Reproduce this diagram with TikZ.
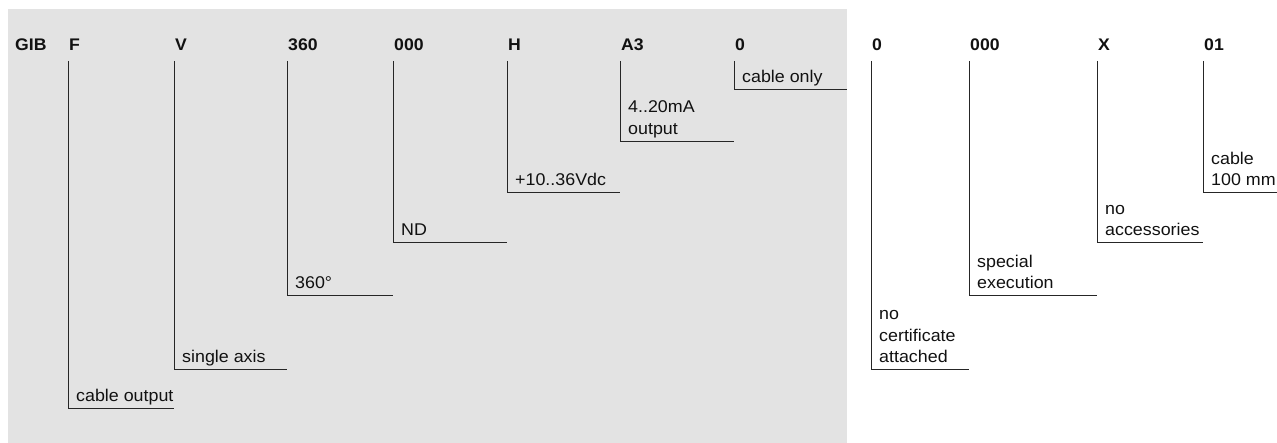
\documentclass[tikz,border=0pt]{standalone}
\usepackage{fontspec}
\setmainfont[FakeStretch=1.05]{Liberation Sans}
\definecolor{bggray}{HTML}{E3E3E3}
\definecolor{txt}{HTML}{111111}
\newcommand{\lbl}[1]{\parbox[b]{5cm}{\raggedright #1}}
\begin{document}
\begin{tikzpicture}[x=1pt,y=-1pt,
  code/.style={anchor=base west,inner sep=0pt,font=\fontsize{16.8}{18}\selectfont\bfseries,text=txt},
  lab/.style={anchor=base west,inner sep=0pt,font=\fontsize{17}{21.7}\selectfont,text=txt},
  lead/.style={draw=black!85,line width=1pt}]
\useasboundingbox (0,0) rectangle (1277,443);
\fill[bggray] (8,9) rectangle (847,443);
% header codes
\node[code] (cGIB) at (15,51) {GIB};
\node[code] (cF) at (69,51) {F};
\node[code] (cV) at (175,51) {V};
\node[code] (c360) at (288,51) {360};
\node[code] (c000) at (394,51) {000};
\node[code] (cH) at (508,51) {H};
\node[code] (cA3) at (621,51) {A3};
\node[code] (c0) at (735,51) {0};
\node[code] (c0b) at (872,51) {0};
\node[code] (c000b) at (970,51) {000};
\node[code] (cX) at (1098,51) {X};
\node[code] (c01) at (1204,51) {01};
% leader corner coordinates
\foreach \n/\x/\y/\e in {F/68/409/174, V/174/370/287, 360/287/296/393, 000/393/243/507,
  H/507/193/620, A3/620/142/734, 0/734/90/847, 0b/871/370/969, 000b/969/296/1097,
  X/1097/243/1203, 01/1203/193/1277}{
  \coordinate (t\n) at (\x,61);
  \coordinate (k\n) at (\x,\y);
  \coordinate (e\n) at (\e,\y);
  \draw[lead] (t\n) -- (k\n) -- (e\n);
}
% labels (positioned at the baseline of their last line)
\node[lab] (lF) at (76,402) {\lbl{cable output}};
\node[lab] (lV) at (182,363) {\lbl{single axis}};
\node[lab] (l360) at (295,289) {\lbl{360°}};
\node[lab] (l000) at (401,236) {\lbl{ND}};
\node[lab] (lH) at (515,186) {\lbl{+10..36Vdc}};
\node[lab] (lA3) at (628,134.5) {\lbl{4..20mA\\output}};
\node[lab] (l0) at (742,83) {\lbl{cable only}};
\node[lab] (l0b) at (879,363) {\lbl{no\\certificate\\attached}};
\node[lab] (l000b) at (977,289) {\lbl{special\\execution}};
\node[lab] (lX) at (1105,236) {\lbl{no\\accessories}};
\node[lab] (l01) at (1211,186) {\lbl{cable\\100 mm}};
\end{tikzpicture}
\end{document}
